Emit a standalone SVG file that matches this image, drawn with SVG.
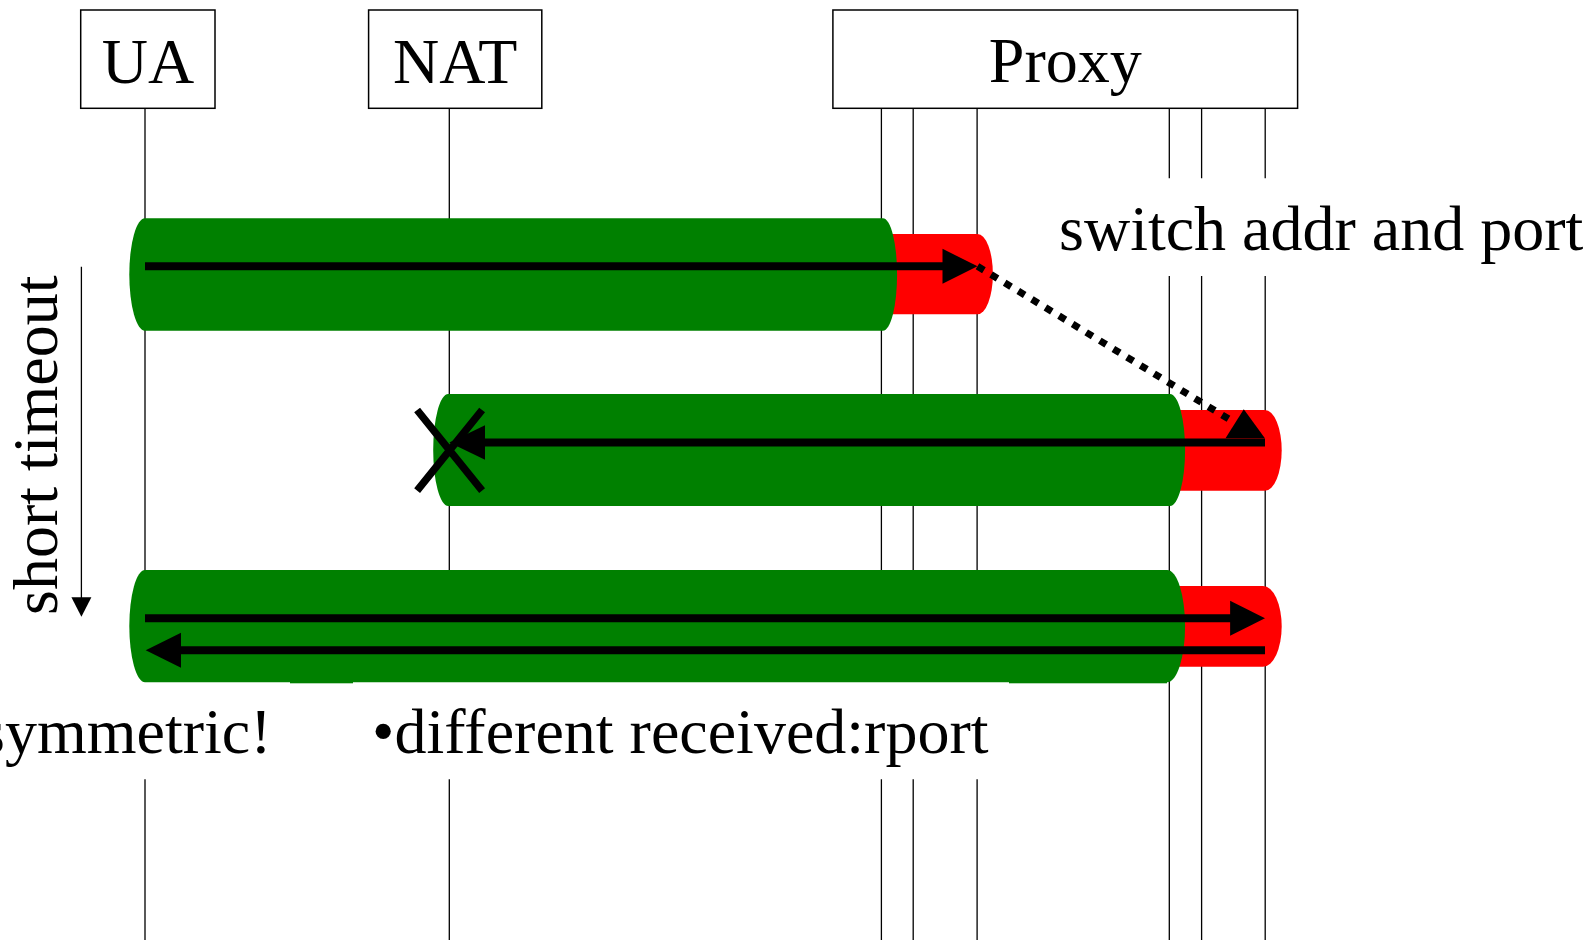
<svg xmlns="http://www.w3.org/2000/svg" width="1591" height="940" viewBox="0 0 1591 940">
  <style>
    .box { fill: #ffffff; stroke: #000000; stroke-width: 1.5; }
    .life { stroke: #000000; stroke-width: 1.3; fill: none; }
    .lbl { font-family: "Liberation Serif", "Times New Roman", serif; font-size: 64px; fill: #000000; }
    .green { fill: #008000; }
    .red { fill: #ff0000; }
    .msg { stroke: #000000; stroke-width: 8; fill: none; }
    .head { fill: #000000; }
  </style>
  <rect width="1591" height="940" fill="#ffffff"/>

  <!-- participants -->
  <g id="ua">
    <rect class="box" x="80.7" y="10" width="134.3" height="98.3"/>
    <text class="lbl" x="148" y="83" text-anchor="middle">UA</text>
    <path class="life" d="M145 108.3 V682 M145 779.3 V940"/>
  </g>
  <g id="nat">
    <rect class="box" x="368.6" y="10" width="173.2" height="98.3"/>
    <text class="lbl" x="455.2" y="83" text-anchor="middle">NAT</text>
    <path class="life" d="M449.3 108.3 V682 M449.3 779.3 V940"/>
  </g>
  <g id="proxy">
    <rect class="box" x="832.9" y="10" width="464.7" height="98.3"/>
    <text class="lbl" x="1065.3" y="82" text-anchor="middle">Proxy</text>
    <path class="life" d="M881.4 108.3 V682 M881.4 779.3 V940
                          M913.2 108.3 V682 M913.2 779.3 V940
                          M977.1 108.3 V682 M977.1 779.3 V940
                          M1169.3 108.3 V178.3 M1169.3 276 V940
                          M1201.6 108.3 V178.3 M1201.6 276 V940
                          M1265.2 108.3 V178.3 M1265.2 276 V940"/>
  </g>

  <!-- connectors -->
  <g id="connectors">
    <!-- first exchange: UA to proxy -->
    <path class="red" d="M860 234 H977.5 A15.4 40.15 0 0 1 977.5 314.3 H860 Z"/>
    <path class="green" d="M145 218.3 H882.9 A14.2 56.2 0 0 1 882.9 330.7 H145 A15.7 56.2 0 0 1 145 218.3 Z"/>
    <line class="msg" x1="145" y1="266.3" x2="945" y2="266.3"/>
    <polygon class="head" points="942.5,248.8 977.5,266.3 942.5,283.8"/>

    <!-- second exchange: proxy back toward NAT, dropped -->
    <path class="red" d="M1160 410 H1264.9 A16.8 40.35 0 0 1 1264.9 490.7 H1160 Z"/>
    <path class="green" d="M448.2 394 H1170 A15.1 56 0 0 1 1170 506 H448.2 A15 56 0 0 1 448.2 394 Z"/>
    <line class="msg" x1="1265" y1="442.5" x2="482" y2="442.5"/>
    <polygon class="head" points="485,425.2 449.3,442.5 485,459.8"/>
    <path d="M417.1 410 L482.1 490.7 M482.1 410 L417.1 490.7" stroke="#000000" stroke-width="7.5" fill="none"/>

    <!-- address switch -->
    <line x1="977.5" y1="266.3" x2="1232" y2="421" stroke="#000000" stroke-width="7" stroke-dasharray="7.5 8.4"/>
    <polygon class="head" points="1225.5,438.3 1243.8,409.3 1264.9,438.3"/>

    <!-- third exchange: both directions -->
    <path class="red" d="M1160 586 H1263 A18.7 40.35 0 0 1 1263 666.7 H1160 Z"/>
    <path class="green" d="M145 570 H1167.2 A17.9 56.15 0 0 1 1167.2 682.3 H145 A15.7 56.15 0 0 1 145 570 Z"/>
    <rect class="green" x="290" y="681" width="63" height="2.3"/>
    <rect class="green" x="1009" y="681" width="158" height="2.3"/>
    <line class="msg" x1="145" y1="618.3" x2="1232" y2="618.3"/>
    <polygon class="head" points="1230.1,600.8 1265,618.3 1230.1,635.8"/>
    <line class="msg" x1="1265" y1="650.3" x2="178" y2="650.3"/>
    <polygon class="head" points="181,632.8 145.7,650.3 181,667.8"/>

    <!-- timeout marker -->
    <line class="life" x1="81.4" y1="266.7" x2="81.4" y2="600"/>
    <polygon class="head" points="71.4,597.3 91.4,597.3 81.4,616.7"/>
  </g>

  <!-- annotations -->
  <g id="labels">
    <text class="lbl" x="1059" y="250">switch addr and port</text>
    <text class="lbl" transform="translate(56.5,615) rotate(-90)">short timeout</text>
    <text class="lbl" x="-20" y="753">symmetric!</text>
    <text class="lbl" x="372" y="753">•different received:rport</text>
  </g>
</svg>
